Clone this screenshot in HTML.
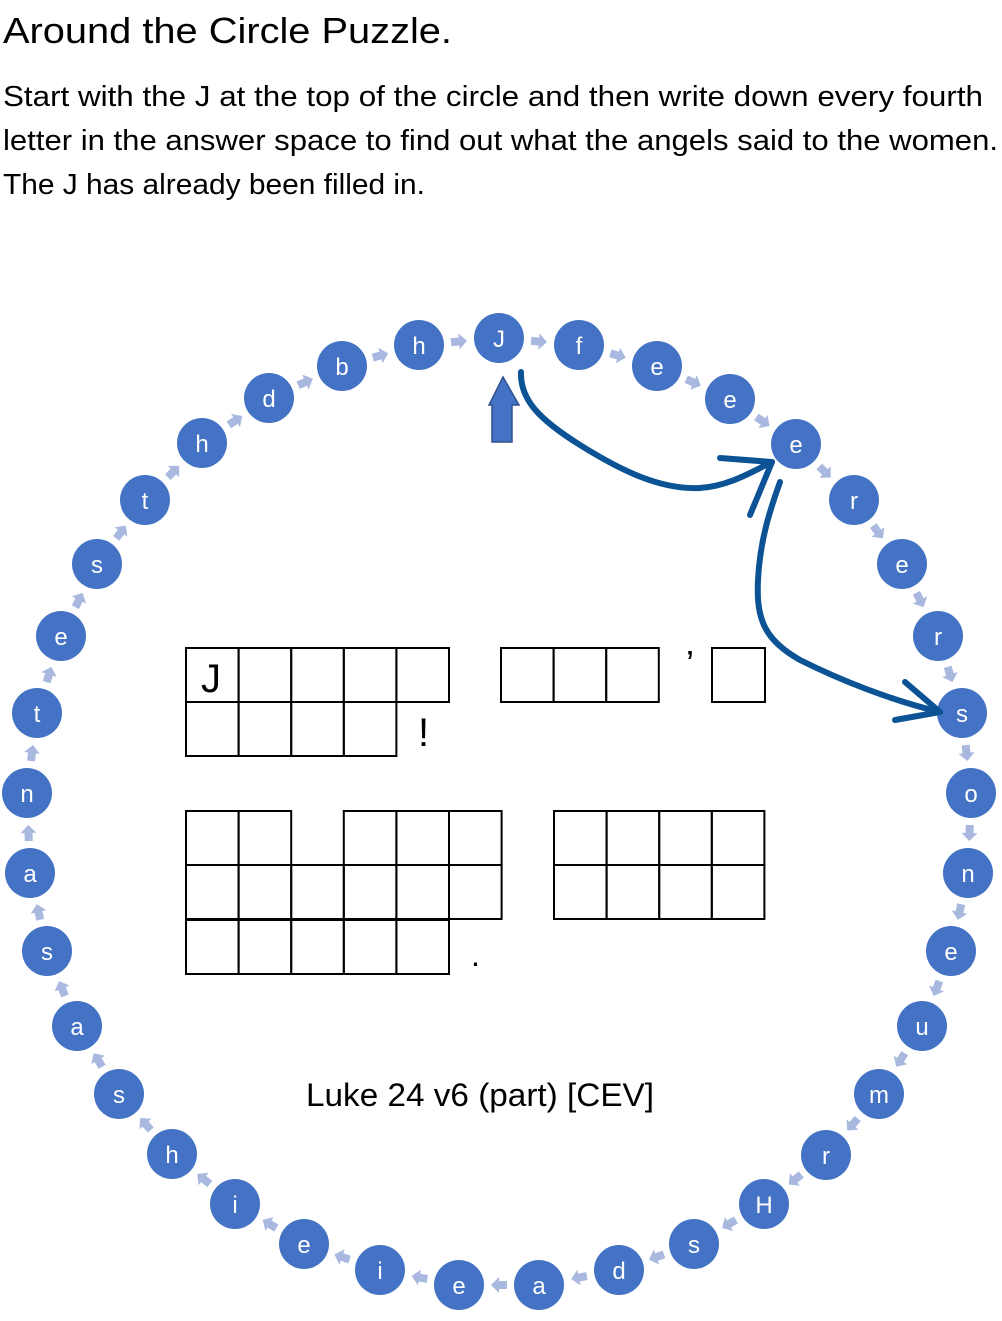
<!DOCTYPE html>
<html><head><meta charset="utf-8"><style>
html,body{margin:0;padding:0;background:#fff;}
svg{display:block;}
text{font-family:"Liberation Sans",sans-serif;}
</style></head><body>
<svg id="s" width="1002" height="1321" viewBox="0 0 1002 1321" xmlns="http://www.w3.org/2000/svg">
<text x="3" y="43" font-size="36" textLength="449" lengthAdjust="spacingAndGlyphs" fill="#000">Around the Circle Puzzle.</text>
<text x="3" y="106" font-size="29" textLength="980" lengthAdjust="spacingAndGlyphs">Start with the J at the top of the circle and then write down every fourth</text>
<text x="3" y="150" font-size="29" textLength="995" lengthAdjust="spacingAndGlyphs">letter in the answer space to find out what the angels said to the women.</text>
<text x="3" y="194" font-size="29" textLength="422" lengthAdjust="spacingAndGlyphs">The J has already been filled in.</text>
<g id="arrows"></g>
<g id="circles"></g>
<g fill="none" stroke="#000" stroke-width="2" id="grid"></g>
<text x="201" y="692" font-size="40">J</text>
<text x="418" y="746" font-size="40">!</text>
<text x="686" y="676" font-size="36">’</text>
<text x="471" y="966" font-size="32">.</text>
<text x="306" y="1106" font-size="32" textLength="348" lengthAdjust="spacingAndGlyphs">Luke 24 v6 (part) [CEV]</text>
<path d="M492,442 L492,405 L489,405 L503,377 L519,405 L512,405 L512,442 Z" fill="#4472C4" stroke="#2F528F" stroke-width="1.5"/>
<g fill="none" stroke="#0B5394" stroke-width="6" stroke-linecap="round" stroke-linejoin="round">
<path d="M521,372 C520,400 540,420 580,445 C620,470 660,490 700,488 C730,486 755,470 772,462"/>
<path d="M720,458 L772,462 L750,515"/>
<path d="M780,482 C770,510 760,540 758,580 C756,620 765,640 800,660 C840,680 890,700 940,712"/>
<path d="M905,682 L940,712 L895,720"/>
</g>
</svg>
<script>
var pts=[["J",499,338],["f",579,345],["e",657,366],["e",730,399],["e",796,444],["r",854,500],["e",902,564],["r",938,636],["s",962,713],["o",971,793],["n",968,873],["e",951,951],["u",922,1026],["m",879,1094],["r",826,1155],["H",764,1204],["s",694,1244],["d",619,1270],["a",539,1285],["e",459,1285],["i",380,1270],["e",304,1244],["i",235,1204],["h",172,1154],["s",119,1094],["a",77,1026],["s",47,951],["a",30,873],["n",27,793],["t",37,713],["e",61,636],["s",97,564],["t",145,500],["h",202,443],["d",269,398],["b",342,366],["h",419,345]];
var NS="http://www.w3.org/2000/svg",c=document.getElementById("circles"),a=document.getElementById("arrows"),g=document.getElementById("grid");
function el(t,at,p){var e=document.createElementNS(NS,t);for(var k in at)e.setAttribute(k,at[k]);p.appendChild(e);return e;}
for(var i=0;i<pts.length;i++){var p=pts[i],q=pts[(i+1)%pts.length];
el("circle",{cx:p[1],cy:p[2],r:25,fill:"#4472C4"},c);
var t=el("text",{x:p[1],y:p[2]+9,"font-size":24,fill:"#fff","text-anchor":"middle"},c);t.textContent=p[0];
var mx=(p[1]+q[1])/2,my=(p[2]+q[2])/2,ang=Math.atan2(q[2]-p[2],q[1]-p[1])*180/Math.PI;
el("path",{d:"M-8,-4 L0,-4 L0,-8 L8,0 L0,8 L0,4 L-8,4 Z",fill:"#A9B8DF",transform:"translate("+mx+","+my+") rotate("+ang+")"},a);}
var w=52.6;
function cells(x0,y0,n){for(var k=0;k<n;k++)el("rect",{x:x0+k*w,y:y0,width:w,height:54},g);}
cells(186,648,5);cells(186,702,4);cells(501,648,3);el("rect",{x:712,y:648,width:53,height:54},g);
el("rect",{x:186,y:811,width:w,height:54},g);el("rect",{x:186+w,y:811,width:w,height:54},g);
for(var k=3;k<6;k++)el("rect",{x:186+k*w,y:811,width:w,height:54},g);
cells(186,865,6);cells(186,920,5);
cells(554,811,4);cells(554,865,4);
</script>
</body></html>
